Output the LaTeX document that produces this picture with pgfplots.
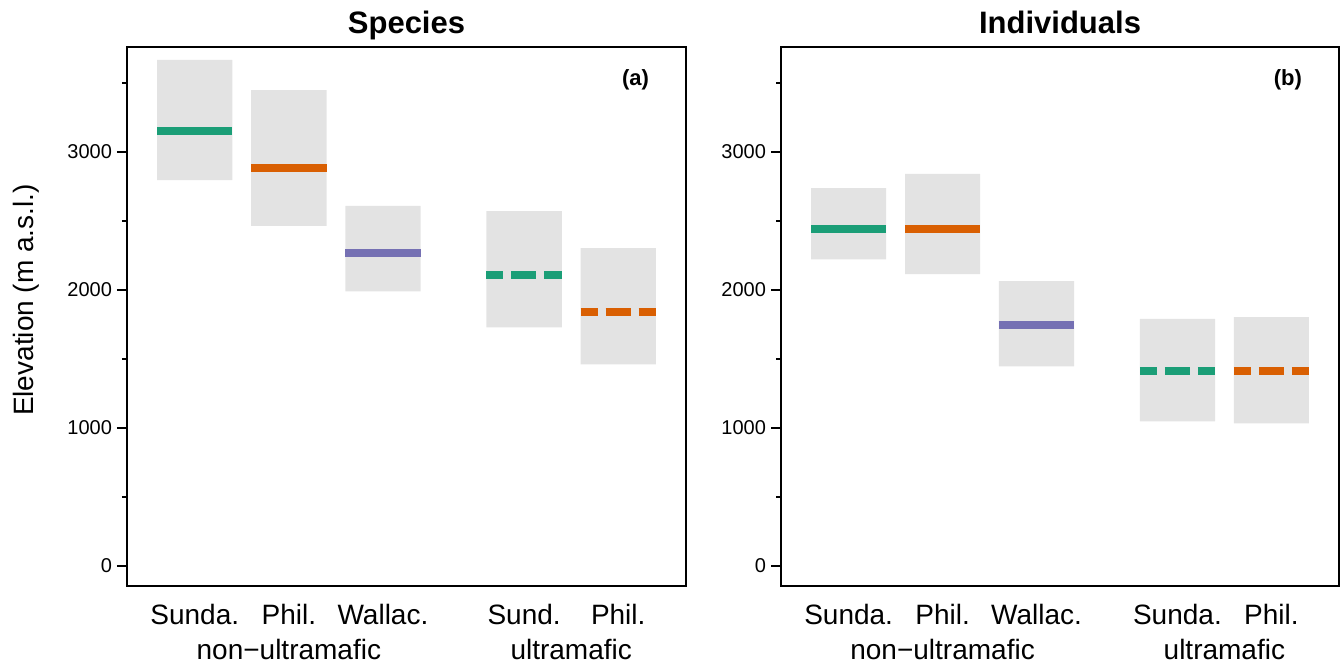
\documentclass[border=0pt]{standalone}
\usepackage{pgfplots}
\pgfplotsset{compat=1.18}
\usepackage{pgfplotstable}
\usepackage{fontspec}
\setmainfont{Liberation Sans}
\definecolor{dkgreen}{HTML}{1B9E77}
\definecolor{dkorange}{HTML}{D95F02}
\definecolor{dkpurple}{HTML}{7570B3}
\definecolor{boxgray}{HTML}{E3E3E3}

% panel (a): Species
\pgfplotstableread{
x   lo   hi   med
1   2797 3667 3150
2   2464 3449 2884
3   1990 2609 2265
4.5 1730 2572 2110
5.5 1462 2304 1841
}\species
% panel (b): Individuals
\pgfplotstableread{
x   lo   hi   med
1   2222 2739 2442
2   2116 2841 2440
3   1446 2065 1746
4.5 1048 1790 1413
5.5 1033 1804 1413
}\individuals

\pgfplotsset{
  panel/.style={
    scale only axis, width=279.5pt, height=269.5pt,
    xmin=0.28, xmax=6.22, ymin=-145, ymax=3761,
    anchor=south west, clip=false,
  },
  framed/.style={
    panel,
    ybar stacked, bar width=0.8,
    axis line style={line width=0.6pt},
    ytick={0,1000,2000,3000}, minor ytick={500,1500,2500,3500},
    ytick pos=left, ytick align=outside,
    major tick length=5pt, minor tick length=2.5pt,
    every tick/.style={black, line width=0.75pt},
    xtick={1,2,3,4.5,5.5}, xtick align=inside, xtick style={draw=none},
    xticklabel style={font=\fontsize{14}{16}\selectfont, anchor=base, yshift=-19pt},
    yticklabel style={font=\fontsize{10}{12}\selectfont, xshift=1pt},
    /pgf/number format/assume math mode=true,
    /pgf/number format/1000 sep={},
  },
}
\tikzset{
  medline/.style={line width=4pt, line cap=butt},
  meddash/.style={line width=4pt, line cap=butt, dash pattern=on 12.5pt off 4pt, dash phase=4pt},
  paneltitle/.style={anchor=base, font=\bfseries\fontsize{15.5}{18}\selectfont, yshift=7pt},
  panelletter/.style={anchor=north east, font=\bfseries\fontsize{11}{13}\selectfont, xshift=-15pt, yshift=-7.5pt},
  grouplabel/.style={anchor=base, font=\fontsize{14}{16}\selectfont, yshift=-36.5pt},
}

\begin{document}
\begin{tikzpicture}
\useasboundingbox (0,0) rectangle (670.5pt,333pt);

% ---------- panel (a) ----------
\begin{axis}[framed, at={(63.5pt,40pt)},
  xticklabels={Sunda.,Phil.,Wallac.,Sund.,Phil.}]
  \addplot[draw=none, fill=none] table[x=x, y=lo] {\species};
  \addplot[draw=none, fill=boxgray] table[x=x, y expr=\thisrow{hi}-\thisrow{lo}] {\species};
  \draw[line width=1.1pt] (axis cs:0.28,0) -- (axis cs:0.28,3500);
  \node[paneltitle] at (rel axis cs:0.5,1) {Species};
  \node[panelletter] at (rel axis cs:1,1) {(a)};
  \node[grouplabel] at (axis cs:2,-145) {non−ultramafic};
  \node[grouplabel] at (axis cs:5,-145) {ultramafic};
\end{axis}
\begin{axis}[panel, at={(63.5pt,40pt)}, hide axis]
  \addplot[medline, dkgreen]  coordinates {(0.6,3150) (1.4,3150)};
  \addplot[medline, dkorange] coordinates {(1.6,2884) (2.4,2884)};
  \addplot[medline, dkpurple] coordinates {(2.6,2265) (3.4,2265)};
  \addplot[meddash, dkgreen]  coordinates {(4.1,2110) (4.9,2110)};
  \addplot[meddash, dkorange] coordinates {(5.1,1841) (5.9,1841)};
\end{axis}

% ---------- panel (b) ----------
\begin{axis}[framed, at={(390.5pt,40pt)}, width=279pt,
  xticklabels={Sunda.,Phil.,Wallac.,Sunda.,Phil.}]
  \addplot[draw=none, fill=none] table[x=x, y=lo] {\individuals};
  \addplot[draw=none, fill=boxgray] table[x=x, y expr=\thisrow{hi}-\thisrow{lo}] {\individuals};
  \draw[line width=1.1pt] (axis cs:0.28,0) -- (axis cs:0.28,3500);
  \node[paneltitle] at (rel axis cs:0.5,1) {Individuals};
  \node[panelletter] at (rel axis cs:1,1) {(b)};
  \node[grouplabel] at (axis cs:2,-145) {non−ultramafic};
  \node[grouplabel] at (axis cs:5,-145) {ultramafic};
\end{axis}
\begin{axis}[panel, at={(390.5pt,40pt)}, width=279pt, hide axis]
  \addplot[medline, dkgreen]  coordinates {(0.6,2442) (1.4,2442)};
  \addplot[medline, dkorange] coordinates {(1.6,2440) (2.4,2440)};
  \addplot[medline, dkpurple] coordinates {(2.6,1746) (3.4,1746)};
  \addplot[meddash, dkgreen]  coordinates {(4.1,1413) (4.9,1413)};
  \addplot[meddash, dkorange] coordinates {(5.1,1413) (5.9,1413)};
\end{axis}

\node[rotate=90, anchor=base, font=\fontsize{14}{16}\selectfont] at (16.5pt,183pt) {Elevation (m a.s.l.)};
\end{tikzpicture}
\end{document}
